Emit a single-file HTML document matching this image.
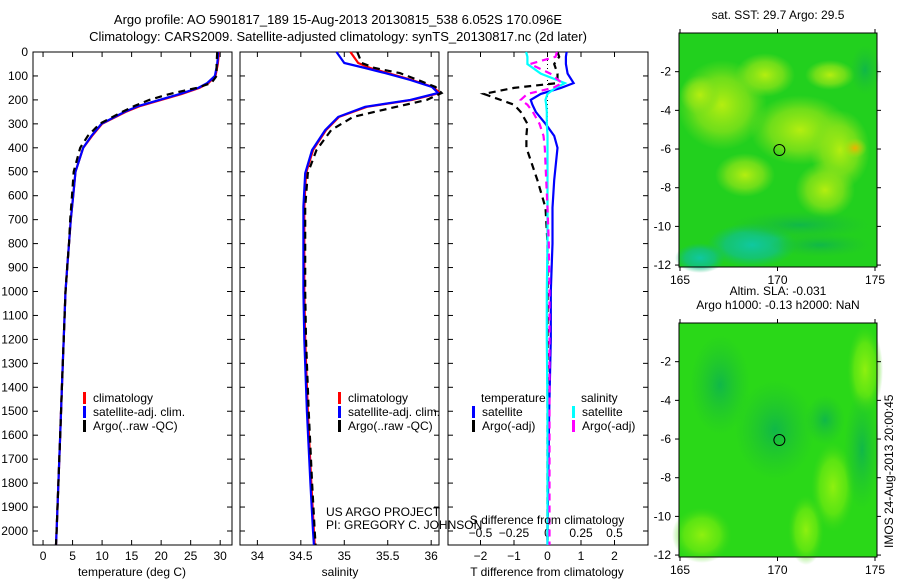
<!DOCTYPE html>
<html><head><meta charset="utf-8"><style>
html,body{margin:0;padding:0;background:#fff;}
svg{display:block;font-family:"Liberation Sans",sans-serif;}
text{font-size:12px;fill:#000;}
</style></head><body>
<svg id="fig" width="900" height="580" viewBox="0 0 900 580" xmlns="http://www.w3.org/2000/svg">
<defs>
<radialGradient id="yg" cx="50%" cy="50%" r="50%"><stop offset="0%" stop-color="#b4ee10"/><stop offset="60%" stop-color="#90e418" stop-opacity="0.7"/><stop offset="100%" stop-color="#7ae01e" stop-opacity="0"/></radialGradient>
<radialGradient id="og" cx="50%" cy="50%" r="50%"><stop offset="0%" stop-color="#f0b000"/><stop offset="100%" stop-color="#b0e010" stop-opacity="0"/></radialGradient>
<radialGradient id="tg" cx="50%" cy="50%" r="50%"><stop offset="0%" stop-color="#10c8a0"/><stop offset="60%" stop-color="#10c090" stop-opacity="0.7"/><stop offset="100%" stop-color="#10c070" stop-opacity="0"/></radialGradient>
<radialGradient id="dg" cx="50%" cy="50%" r="50%"><stop offset="0%" stop-color="#10b848"/><stop offset="100%" stop-color="#20c030" stop-opacity="0"/></radialGradient>
<radialGradient id="lg" cx="50%" cy="50%" r="50%"><stop offset="0%" stop-color="#8ef010"/><stop offset="60%" stop-color="#70ea10" stop-opacity="0.7"/><stop offset="100%" stop-color="#40d818" stop-opacity="0"/></radialGradient>
</defs>
<text x="338" y="24" text-anchor="middle" style="font-size:13px">Argo profile: AO 5901817_189 15-Aug-2013 20130815_538 6.052S 170.096E</text>
<text x="338" y="41" text-anchor="middle" style="font-size:13px">Climatology: CARS2009. Satellite-adjusted climatology: synTS_20130817.nc (2d later)</text>
<g id="maps"></g>
<g id="panels"></g>
</svg>
<script>
const NS="http://www.w3.org/2000/svg";
function mk(tag,attrs,parent,txt){const e=document.createElementNS(NS,tag);for(const k in attrs)e.setAttribute(k,attrs[k]);if(txt!==undefined)e.textContent=txt;parent.appendChild(e);return e;}
const P=document.getElementById('panels');

// ---- data ----
const depthTicks=[0,100,200,300,400,500,600,700,800,900,1000,1100,1200,1300,1400,1500,1600,1700,1800,1900,2000];
const tempTicks=[0,5,10,15,20,25,30];
const salTicks=[34,34.5,35,35.5,36];
const salTickLabels=["34","34.5","35","35.5","36"];
const tdiffTicks=[-2,-1,0,1,2];
const sdiffTicks=[-0.5,-0.25,0,0.25,0.5];

const tDepth=[0,50,100,130,150,175,200,225,250,300,350,400,500,600,700,800,900,1000,1200,1400,1600,1800,2000,2058];
const tClim =[29.8,29.6,29.2,28,26.5,23.5,20,16.5,14,10,8.3,6.8,5.5,5.1,4.7,4.4,4.1,3.8,3.5,3.2,2.9,2.6,2.3,2.2];
const tSat  =[29.7,29.5,29.1,27.8,26.3,23.2,19.7,16.2,13.8,9.9,8.2,6.8,5.5,5.1,4.7,4.4,4.1,3.8,3.5,3.2,2.9,2.6,2.3,2.2];
const tArgo =[29.5,29.4,29.4,28.5,26.0,21.5,18.0,15.5,13.4,9.6,7.6,6.3,5.2,4.9,4.6,4.4,4.1,3.8,3.5,3.2,2.9,2.6,2.3,2.2];

const sDepth=[0,46,67,88,117,146,171,200,229,271,326,409,506,646,800,1000,1200,1500,1800,2000,2058];
const sClim =[35.07,35.16,35.3,35.5,35.78,36.02,36.1,35.78,35.26,34.94,34.79,34.64,34.56,34.54,34.54,34.54,34.55,34.58,34.62,34.65,34.66];
const sSat  =[34.91,35.0,35.24,35.47,35.76,36.01,36.08,35.76,35.24,34.93,34.78,34.63,34.55,34.53,34.53,34.53,34.54,34.57,34.61,34.64,34.65];
const sArgo =[35.15,35.2,35.35,35.64,35.85,36.05,36.12,35.95,35.6,35.1,34.85,34.68,34.58,34.55,34.55,34.55,34.56,34.59,34.63,34.66,34.67];

const dDepth=[0,20,50,90,130,150,175,200,220,250,300,350,400,535,650,800,1000,1200,1500,1800,2000,2058];
const dTsat =[0.57,0.55,0.55,0.6,0.78,0.4,-0.2,-0.5,-0.45,-0.35,-0.06,0.2,0.3,0.2,0.15,0.15,0.1,0.1,0.05,0.02,0.0,0.0];
const dTargo=[0.3,0.35,0.2,0.3,0.3,-1.0,-1.9,-1.4,-1.0,-0.8,-0.6,-0.63,-0.63,-0.3,-0.06,0.0,0.0,0.0,0.0,0.0,0.0,0.0];
const dSsat =[-0.16,-0.15,-0.15,-0.05,0.13,0.06,0.0,-0.015,-0.01,-0.005,-0.005,0.0,0.0,0.0,0.0,0.0,-0.005,-0.005,0.0,0.0,0.0,0.0];
const dSargo=[0.07,0.06,-0.13,0.02,0.11,0.04,-0.15,-0.2,-0.15,-0.11,-0.06,-0.03,-0.02,-0.01,0.0,0.01,0.015,0.015,0.015,0.015,0.015,0.015];

// ---- axes ----
const y0=52,y1=545,dMax=2058.5;
const ySc=d=>y0+d*(y1-y0)/dMax;
const panels=[
 {name:'temperature',x0:33,x1:232,v0:-1.7,v1:32.0},
 {name:'salinity',x0:240,x1:439,v0:33.80,v1:36.09},
 {name:'difference',x0:448,x1:648,v0:-2.97,v1:3.0}
];
const xSc=(p,v)=>p.x0+(v-p.v0)*(p.x1-p.x0)/(p.v1-p.v0);

panels.forEach((p,i)=>{
 const g=mk('g',{},P);
 
 
 const r=mk('rect',{x:p.x0,y:y0,width:p.x1-p.x0,height:y1-y0,fill:'none',stroke:'#000','stroke-width':1},g);
 
 
 depthTicks.forEach(d=>{
  const y=ySc(d);
  mk('line',{x1:p.x0,x2:p.x0+5,y1:y,y2:y,stroke:'#000'},g);
  mk('line',{x1:p.x1,x2:p.x1-5,y1:y,y2:y,stroke:'#000'},g);
  if(i===0){const t=mk('text',{x:p.x0-5,y:y+4,'text-anchor':'end'},g,String(d));
   
   }
 });
});
const pT=panels[0],pS=panels[1],pD=panels[2];
tempTicks.forEach(v=>{const x=xSc(pT,v);
 mk('line',{x1:x,x2:x,y1:y1,y2:y1-5,stroke:'#000'},P);mk('line',{x1:x,x2:x,y1:y0,y2:y0+5,stroke:'#000'},P);
 const t=mk('text',{x:x,y:560,'text-anchor':'middle'},P,String(v));
 
 });
salTicks.forEach((v,k)=>{const x=xSc(pS,v);
 mk('line',{x1:x,x2:x,y1:y1,y2:y1-5,stroke:'#000'},P);mk('line',{x1:x,x2:x,y1:y0,y2:y0+5,stroke:'#000'},P);
 const t=mk('text',{x:x,y:560,'text-anchor':'middle'},P,salTickLabels[k]);
 
 });
tdiffTicks.forEach(v=>{const x=xSc(pD,v);
 mk('line',{x1:x,x2:x,y1:y1,y2:y1-5,stroke:'#000'},P);mk('line',{x1:x,x2:x,y1:y0,y2:y0+5,stroke:'#000'},P);
 const t=mk('text',{x:x,y:560,'text-anchor':'middle'},P,v<0?'\u2212'+(-v):String(v));
 
 });
sdiffTicks.forEach(v=>{const x=xSc(pD,v*4);
 const t=mk('text',{x:x,y:537,'text-anchor':'middle'},P,v<0?'\u2212'+(-v):String(v));
 
 });
{const x=xSc(pD,0);const l=mk('line',{x1:x,x2:x,y1:y0,y2:y1,stroke:'#000','stroke-dasharray':'1,3'},P);
 
 }

function line(p,depths,vals,color,dash,name,scale){
 const pts=depths.map((d,k)=>xSc(p,vals[k]*(scale||1)).toFixed(1)+','+ySc(d).toFixed(1)).join(' ');
 const e=mk('polyline',{points:pts,fill:'none',stroke:color,'stroke-width':2.2,'stroke-dasharray':dash||'none'},P);
 
 
}
line(pT,tDepth,tClim,'#ff0000',null,'temperature-climatology-line');
line(pT,tDepth,tSat,'#0000ff',null,'temperature-satellite-line');
line(pT,tDepth,tArgo,'#000000','7,5','temperature-argo-line');
line(pS,sDepth,sClim,'#ff0000',null,'salinity-climatology-line');
line(pS,sDepth,sSat,'#0000ff',null,'salinity-satellite-line');
line(pS,sDepth,sArgo,'#000000','7,5','salinity-argo-line');
line(pD,dDepth,dTsat,'#0000ff',null,'t-diff-satellite-line');
line(pD,dDepth,dTargo,'#000000','7,5','t-diff-argo-line');
line(pD,dDepth,dSsat,'#00ffff',null,'s-diff-satellite-line',4);
line(pD,dDepth,dSargo,'#ff00ff','7,5','s-diff-argo-line',4);

function leg(x,y,color,label){
 const g=mk('g',{},P);
 
 
 mk('rect',{x:x,y:y-10,width:3,height:12,fill:color},g);
 mk('text',{x:x+10,y:y},g,label);
}
leg(83,402,'#ff0000','climatology');leg(83,416,'#0000ff','satellite-adj. clim.');leg(83,430,'#000000','Argo(..raw -QC)');
leg(338,402,'#ff0000','climatology');leg(338,416,'#0000ff','satellite-adj. clim.');leg(338,430,'#000000','Argo(..raw -QC)');
mk('text',{x:481,y:402},P,'temperature');mk('text',{x:581,y:402},P,'salinity');
leg(472,416,'#0000ff','satellite');leg(472,430,'#000000','Argo(-adj)');
leg(572,416,'#00ffff','satellite');leg(572,430,'#ff00ff','Argo(-adj)');

[['x-axis-title-temperature',132,576,'temperature (deg C)'],['x-axis-title-salinity',340,576,'salinity'],['x-axis-title-t-diff',547,576,'T difference from climatology'],['s-diff-axis-title',547,524,'S difference from climatology']].forEach(a=>{
 const t=mk('text',{x:a[1],y:a[2],'text-anchor':'middle'},P,a[3]);
 
 });
{const t=mk('text',{x:326,y:516},P,'US ARGO PROJECT');
 const t2=mk('text',{x:326,y:529},P,'PI: GREGORY C. JOHNSON');}

// ---- maps ----
const M=document.getElementById('maps');
const lonTicks=[165,170,175];
const latTicks=[-2,-4,-6,-8,-10,-12];
const floatLon=170.096, floatLat=-6.052;
const maps=[
 {name:'sst-map',x0:679,x1:877,yt:33,yb:267,base:'#22d01e',title:['sat. SST: 29.7 Argo: 29.5'],
  blobs:[['yg',722,105,45,45],['yg',765,75,30,22],['yg',800,130,50,35],['yg',840,150,30,40],['yg',825,190,30,28],['og',855,148,12,10],['yg',745,175,30,22],['yg',700,95,20,20],['yg',830,75,25,15],['tg',752,245,45,22],['tg',700,258,25,15],['dg',800,225,70,14],['dg',865,70,15,25],['dg',820,245,50,12]]},
 {name:'sla-map',x0:679,x1:877,yt:323,yb:557,base:'#2ad818',title:['Altim. SLA: -0.031','Argo h1000: -0.13 h2000: NaN'],
  blobs:[['lg',865,370,18,45],['lg',833,487,22,45],['lg',806,530,18,35],['lg',702,535,30,28],['dg',720,385,30,50],['dg',775,430,40,50],['dg',862,450,18,60],['dg',825,420,20,25]]}
];
maps.forEach(m=>{
 const g=mk('g',{},M);
 
 
 mk('rect',{x:m.x0,y:m.yt,width:m.x1-m.x0,height:m.yb-m.yt,fill:m.base},g);
 const cg=mk('g',{},g);
 m.blobs.forEach(b=>mk('ellipse',{cx:b[1],cy:b[2],rx:b[3],ry:b[4],fill:'url(#'+b[0]+')'},cg));
 const lx=v=>m.x0+1+(v-165)*(875-680)/10;
 const ly=v=>m.yt+(0-v)*(m.yb-m.yt)/12.1;
 mk('rect',{x:m.x0,y:m.yt,width:m.x1-m.x0,height:m.yb-m.yt,fill:'none',stroke:'#000'},g);
 lonTicks.forEach(v=>{const x=lx(v);mk('line',{x1:x,x2:x,y1:m.yb,y2:m.yb+4,stroke:'#000'},g);mk('line',{x1:x,x2:x,y1:m.yt,y2:m.yt-4,stroke:'#000'},g);
  const t=mk('text',{x:x,y:m.yb+17,'text-anchor':'middle'},g,String(v));
  
  });
 latTicks.forEach(v=>{const y=ly(v);mk('line',{x1:m.x0,x2:m.x0-4,y1:y,y2:y,stroke:'#000'},g);mk('line',{x1:m.x1,x2:m.x1+4,y1:y,y2:y,stroke:'#000'},g);
  const t=mk('text',{x:m.x0-8,y:y+4,'text-anchor':'end'},g,String(v));
  
  });
 const c=mk('circle',{cx:lx(floatLon),cy:ly(floatLat),r:5.5,fill:'none',stroke:'#000'},g);
 
 
 m.title.forEach((s,k)=>{const t=mk('text',{x:(m.x0+m.x1)/2,y:m.yt-14-(m.title.length-1-k)*14,'text-anchor':'middle'},g,s);
  
  });
});
{const t=mk('text',{x:893,y:548,transform:'rotate(-90 893 548)'},M,'IMOS 24-Aug-2013 20:00:45');
 
 }
</script>
</body></html>
